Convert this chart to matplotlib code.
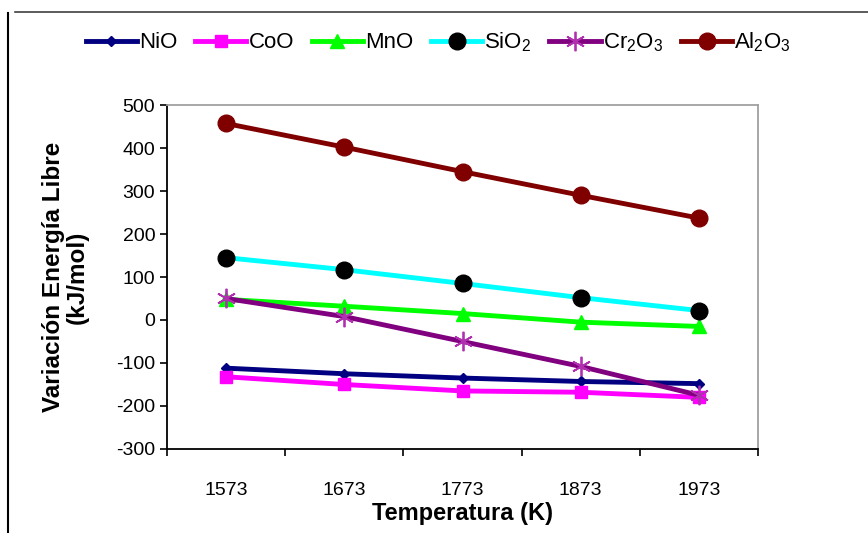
import matplotlib
matplotlib.use('Agg')
import matplotlib.pyplot as plt
from matplotlib.lines import Line2D

plt.rcParams['font.family'] = ['Liberation Sans', 'DejaVu Sans']
plt.rcParams['mathtext.fontset'] = 'custom'
plt.rcParams['mathtext.rm'] = 'Liberation Sans'
plt.rcParams['mathtext.it'] = 'Liberation Sans'

temperatures = ['1573', '1673', '1773', '1873', '1973']
nio = [-112, -125, -135, -143, -148]
coo = [-132, -150, -165, -168, -180]
mno = [48, 32, 15, -5, -15]
sio2 = [145, 117, 85, 52, 22]
cr2o3 = [50, 8, -50, -108, -175]
al2o3 = [457, 402, 345, 290, 237]
y_ticks = [-300, -200, -100, 0, 100, 200, 300, 400, 500]

x = list(range(len(temperatures)))

fig = plt.figure(figsize=(8.68, 5.33), dpi=100)
ax = fig.add_axes([0.1924, 0.1576, 0.6809, 0.6454])

ax.plot(x, nio, color='#000080', lw=3.5, marker='D', ms=5, label='NiO')
ax.plot(x, coo, color='#ff00ff', lw=3.5, marker='s', ms=8, label='CoO')
ax.plot(x, mno, color='#00ff00', lw=3.5, marker='^', ms=10, label='MnO')
ax.plot(x, sio2, color='#00ffff', lw=3.5, marker='o', ms=12,
        mfc='black', mec='black', label='SiO$_2$')
ax.plot(x, cr2o3, color='#800080', lw=3.5, marker=(6, 2, 0), ms=14,
        mec='#b030b0', mew=1.3, label='Cr$_2$O$_3$')
ax.plot(x, al2o3, color='#800000', lw=3.5, marker='o', ms=12, label='Al$_2$O$_3$')

ax.set_xlim(-0.5, len(temperatures) - 0.5)
ax.set_ylim(-300, 500)
ax.set_yticks(y_ticks)
ax.set_yticklabels([str(v) for v in y_ticks], fontsize=14)

# category axis: ticks between categories, labels centred
ax.set_xticks([i - 0.5 for i in range(len(temperatures) + 1)])
ax.set_xticklabels([])
ax.set_xticks(x, minor=True)
ax.set_xticklabels(temperatures, minor=True, fontsize=14)
ax.tick_params(axis='x', which='minor', length=0, pad=24)
ax.tick_params(axis='both', which='major', direction='out', length=5, width=1.2, color='black')

for side in ['left', 'bottom']:
    ax.spines[side].set_color('black')
    ax.spines[side].set_linewidth(1.3)
for side in ['top', 'right']:
    ax.spines[side].set_color('#a0a0a0')
    ax.spines[side].set_linewidth(1.3)

ax.set_xlabel('Temperatura (K)', fontsize=17, fontweight='bold', labelpad=2)
ax.set_ylabel('Variación Energía Libre\n(kJ/mol)', fontsize=17.5, fontweight='bold',
              labelpad=20, linespacing=1.0)

fig.legend(loc='center', bbox_to_anchor=(0.505, 0.921), ncol=6, frameon=False,
           fontsize=16, handlelength=2.3, handletextpad=0.1, columnspacing=0.8,
           borderaxespad=0)

# outer frame lines
fig.add_artist(Line2D([15 / 868, 1], [1 - 12 / 533] * 2, color='#404040', lw=1.2))
fig.add_artist(Line2D([8 / 868] * 2, [0, 1 - 13 / 533], color='black', lw=1.5))

fig.savefig('out.png', dpi=100)
